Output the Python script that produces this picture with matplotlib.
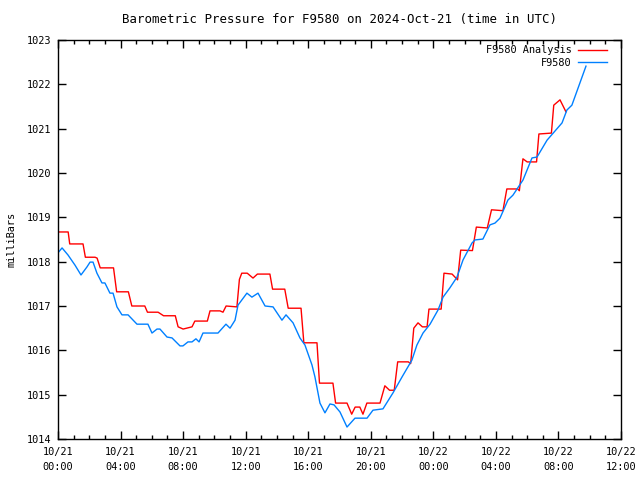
import numpy as np
import matplotlib.pyplot as plt

# hours since 2024-10-21 00:00 UTC
analysis_h = [0, 0.65, 0.75, 1.6, 1.75, 2.37, 2.5, 2.7, 3.55, 3.75, 4.5, 4.72, 5.55, 5.72,
              6.4, 6.75, 7.5, 7.68, 8.0, 8.57, 8.75, 9.55, 9.72, 10.36, 10.55, 10.75, 11.44,
              11.6, 11.75, 12.1, 12.47, 12.75, 13.55, 13.72, 14.5, 14.72, 15.54, 15.72, 16.56,
              16.72, 17.58, 17.75, 18.48, 18.78, 19.0, 19.3, 19.5, 19.75, 20.59, 20.9, 21.2,
              21.5, 21.72, 22.4, 22.55, 22.75, 23.02, 23.3, 23.6, 23.72, 24.5, 24.68, 25.2,
              25.55, 25.75, 26.5, 26.75, 27.45, 27.72, 28.45, 28.7, 29.4, 29.5, 29.73, 30.0,
              30.6, 30.75, 31.55, 31.7, 32.1, 32.48]
analysis_p = [1018.67, 1018.67, 1018.40, 1018.40, 1018.10, 1018.10, 1018.08, 1017.86, 1017.86,
              1017.32, 1017.32, 1017.00, 1017.00, 1016.86, 1016.86, 1016.78, 1016.78, 1016.53,
              1016.48, 1016.53, 1016.66, 1016.66, 1016.89, 1016.89, 1016.86, 1017.00, 1016.98,
              1017.60, 1017.74, 1017.74, 1017.63, 1017.72, 1017.72, 1017.38, 1017.38, 1016.95,
              1016.95, 1016.17, 1016.17, 1015.26, 1015.26, 1014.81, 1014.81, 1014.56, 1014.72,
              1014.72, 1014.56, 1014.81, 1014.81, 1015.20, 1015.10, 1015.10, 1015.74, 1015.74,
              1015.70, 1016.50, 1016.62, 1016.53, 1016.53, 1016.93, 1016.93, 1017.74, 1017.72,
              1017.59, 1018.26, 1018.25, 1018.78, 1018.76, 1019.17, 1019.15, 1019.64, 1019.64,
              1019.60, 1020.32, 1020.25, 1020.25, 1020.88, 1020.90, 1021.53, 1021.65, 1021.38]

station_h = [0, 0.26, 0.64, 1.09, 1.47, 1.85, 2.05, 2.24, 2.49, 2.81, 3.0, 3.32, 3.52, 3.77,
             4.09, 4.48, 5.05, 5.75, 6.01, 6.33, 6.52, 6.97, 7.29, 7.8, 7.99, 8.31, 8.57, 8.82,
             9.02, 9.27, 10.23, 10.74, 11.0, 11.32, 11.51, 12.08, 12.4, 12.79, 13.24, 13.75,
             14.32, 14.58, 15.03, 15.47, 15.79, 16.24, 16.43, 16.75, 17.07, 17.39, 17.65, 18.03,
             18.48, 18.99, 19.76, 20.14, 20.78, 21.42, 22.0, 22.63, 22.95, 23.34, 23.79, 24.3,
             24.62, 25.06, 25.51, 25.9, 26.47, 26.66, 27.17, 27.62, 27.94, 28.26, 28.77, 29.09,
             29.73, 30.31, 30.63, 31.27, 32.23, 32.54, 32.86, 33.76]
station_p = [1018.20, 1018.31, 1018.15, 1017.92, 1017.70, 1017.88, 1017.99, 1017.99, 1017.74,
             1017.52, 1017.52, 1017.29, 1017.29, 1016.98, 1016.80, 1016.80, 1016.59, 1016.59,
             1016.39, 1016.48, 1016.48, 1016.30, 1016.28, 1016.10, 1016.10, 1016.19, 1016.19,
             1016.26, 1016.19, 1016.39, 1016.39, 1016.59, 1016.50, 1016.68, 1017.02, 1017.29,
             1017.20, 1017.29, 1017.00, 1016.98, 1016.68, 1016.80, 1016.62, 1016.28, 1016.12,
             1015.67, 1015.40, 1014.81, 1014.59, 1014.79, 1014.77, 1014.61, 1014.27, 1014.47,
             1014.47, 1014.65, 1014.68, 1015.04, 1015.40, 1015.78, 1016.12, 1016.39, 1016.59,
             1016.91, 1017.20, 1017.41, 1017.65, 1018.04, 1018.42, 1018.49, 1018.51, 1018.83,
             1018.87, 1018.98, 1019.39, 1019.50, 1019.84, 1020.34, 1020.36, 1020.74, 1021.13,
             1021.42, 1021.53, 1022.41]

tick_h = [0, 4, 8, 12, 16, 20, 24, 28, 32, 36]
tick_labels = ['10/21\n00:00', '10/21\n04:00', '10/21\n08:00', '10/21\n12:00', '10/21\n16:00',
               '10/21\n20:00', '10/22\n00:00', '10/22\n04:00', '10/22\n08:00', '10/22\n12:00']

plt.rcParams['font.family'] = 'DejaVu Sans Mono'
plt.rcParams['font.size'] = 7.4

fig = plt.figure(figsize=(6.4, 4.8), dpi=100)
ax = fig.add_axes([58 / 640, 1 - 439 / 480, 563 / 640, 399 / 480])

ax.plot(analysis_h, analysis_p, color='#ff0000', lw=1, label='F9580 Analysis')
ax.plot(station_h, station_p, color='#0080ff', lw=1, label='F9580')

ax.set_xlim(0, 36)
ax.set_ylim(1014, 1023)
ax.set_xticks(tick_h)
ax.set_xticklabels(tick_labels, linespacing=1.6)
ax.set_xticks(np.arange(0, 37, 1), minor=True)
ax.set_yticks(np.arange(1014, 1024, 1))
ax.tick_params(direction='in', top=True, right=True, length=6, width=1, pad=6)
ax.tick_params(axis='y', pad=5)
ax.tick_params(which='minor', direction='in', top=True, length=3, width=1)
for s in ax.spines.values():
    s.set_linewidth(1)

ax.set_title('Barometric Pressure for F9580 on 2024-Oct-21 (time in UTC)', pad=12)
ax.set_ylabel('milliBars', labelpad=7)

ax.legend(loc='upper right', bbox_to_anchor=(1 - 7 / 563, 1 + 2 / 399), frameon=False,
          markerfirst=False, handlelength=2.8, borderaxespad=0.3, labelspacing=0.25,
          handletextpad=0.6)

fig.savefig('out.png', dpi=100)
